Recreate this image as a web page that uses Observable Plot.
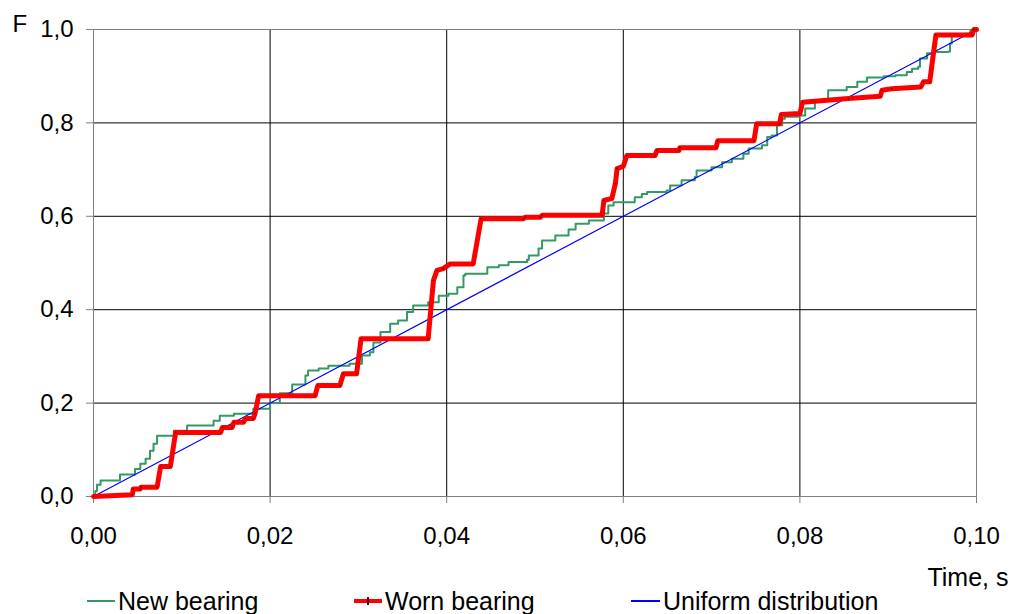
<!DOCTYPE html>
<html><head><meta charset="utf-8">
<script src="https://cdn.jsdelivr.net/npm/d3@7"></script>
<script src="https://cdn.jsdelivr.net/npm/@observablehq/plot@0.6"></script>
<style>
body{margin:0;background:#fff;font-family:"Liberation Sans",Arial,sans-serif;}
#wrap{position:relative;width:1013px;height:614px;overflow:hidden;}
#legend{position:absolute;left:0;top:587px;height:28px;width:1013px;font-size:25px;color:#000;}
.item{position:absolute;top:0;height:28px;display:flex;align-items:center;white-space:nowrap;}
.sym{display:inline-block;position:relative;margin-right:3px;}
</style></head><body>
<div id="wrap"><div id="chart"></div><div id="legend"></div></div>
<script>
// ---- data ----
const seriesNames = ["New bearing", "Worn bearing", "Uniform distribution"];
const xTicks = [0, 0.02, 0.04, 0.06, 0.08, 0.10];
const yTicks = [0, 0.2, 0.4, 0.6, 0.8, 1.0];

const newX = [0, 0.0002, 0.0004, 0.0008, 0.0030, 0.0047, 0.0053, 0.0059, 0.0064, 0.0068,
  0.0072, 0.0091, 0.0106, 0.0136, 0.0143, 0.0159, 0.0181, 0.0200, 0.0211, 0.0225,
  0.0240, 0.0243, 0.0255, 0.0266, 0.0290, 0.0304, 0.0313, 0.0317, 0.0325, 0.0336,
  0.0345, 0.0355, 0.0362, 0.0379, 0.0391, 0.0402, 0.0412, 0.0419, 0.0421, 0.0446,
  0.0459, 0.0470, 0.0491, 0.0493, 0.0504, 0.0508, 0.0523, 0.0538, 0.0546, 0.0561,
  0.0578, 0.0583, 0.0589, 0.0613, 0.0621, 0.0627, 0.0649, 0.0653, 0.0666, 0.0681,
  0.0683, 0.0700, 0.0712, 0.0723, 0.0736, 0.0742, 0.0757, 0.0763, 0.0768, 0.0774,
  0.0780, 0.0783, 0.0798, 0.0806, 0.0817, 0.0825, 0.0832, 0.0853, 0.0865, 0.0876,
  0.0895, 0.0908, 0.0921, 0.0927, 0.0934, 0.0936, 0.0944, 0.0951, 0.0968, 0.0970,
  0.0972, 0.0987, 0.0993, 0.1];
const newF = [0, 0.012, 0.025, 0.034, 0.047, 0.059, 0.070, 0.081, 0.098, 0.113,
  0.130, 0.141, 0.152, 0.162, 0.173, 0.177, 0.188, 0.200, 0.221, 0.240,
  0.259, 0.270, 0.274, 0.280, 0.284, 0.302, 0.309, 0.330, 0.352, 0.370,
  0.377, 0.395, 0.409, 0.416, 0.430, 0.434, 0.448, 0.473, 0.477, 0.491,
  0.495, 0.502, 0.507, 0.516, 0.531, 0.548, 0.559, 0.572, 0.584, 0.591,
  0.606, 0.623, 0.630, 0.641, 0.648, 0.652, 0.655, 0.666, 0.677, 0.684,
  0.698, 0.705, 0.716, 0.723, 0.734, 0.745, 0.752, 0.770, 0.773, 0.795,
  0.809, 0.813, 0.816, 0.831, 0.845, 0.848, 0.870, 0.877, 0.888, 0.897,
  0.900, 0.902, 0.909, 0.916, 0.920, 0.938, 0.949, 0.952, 0.953, 0.970,
  0.986, 0.991, 0.998, 1.0];

const wornX = [0, 0.0044, 0.0045, 0.0053, 0.0054, 0.0072, 0.0076, 0.0087, 0.0093, 0.0144,
  0.0146, 0.0157, 0.0159, 0.0170, 0.0172, 0.0181, 0.0183, 0.0187, 0.0251, 0.0254,
  0.0279, 0.0283, 0.0298, 0.0303, 0.0379, 0.0385, 0.0389, 0.0396, 0.0404, 0.0430,
  0.0439, 0.0487, 0.0489, 0.0506, 0.0508, 0.0576, 0.0578, 0.0587, 0.0591, 0.0593,
  0.0600, 0.0604, 0.0636, 0.0638, 0.0663, 0.0664, 0.0705, 0.0707, 0.0748, 0.0751,
  0.0777, 0.0779, 0.0800, 0.0803, 0.0855, 0.0891, 0.0893, 0.0904, 0.0937, 0.0940,
  0.0947, 0.0954, 0.0995, 0.0997, 0.1];
const wornF = [0, 0.004, 0.016, 0.016, 0.020, 0.020, 0.064, 0.064, 0.137, 0.137,
  0.148, 0.148, 0.159, 0.159, 0.167, 0.167, 0.178, 0.216, 0.216, 0.2375,
  0.2375, 0.263, 0.263, 0.338, 0.338, 0.463, 0.484, 0.488, 0.498, 0.498,
  0.595, 0.595, 0.598, 0.598, 0.602, 0.602, 0.634, 0.638, 0.670, 0.702,
  0.707, 0.730, 0.730, 0.741, 0.741, 0.747, 0.747, 0.762, 0.762, 0.798,
  0.798, 0.818, 0.820, 0.844, 0.852, 0.857, 0.870, 0.873, 0.877, 0.888,
  0.888, 0.988, 0.988, 1.0, 1.0];

const uniformX = [0, 0.1];
const uniformF = [0, 1];

// ---- build tables ----
const toRows = (xs, fs) => xs.slice(0, Math.min(xs.length, fs.length)).map((x, i) => ({x, F: fs[i]}));
const newData = toRows(newX, newF);
const wornData = toRows(wornX, wornF);
const uniData = toRows(uniformX, uniformF);

const colNew = "#339966", colWorn = "#ff0000", colUni = "#0000ff";
const fmt2 = d => d3.format(".2f")(d).replace(".", ",");
const fmt1 = d => d3.format(".1f")(d).replace(".", ",");

const chart = Plot.plot({
  width: 1013, height: 587,
  marginLeft: 93, marginRight: 37, marginTop: 29, marginBottom: 91,
  style: {fontFamily: "'Liberation Sans', Arial, sans-serif", fontSize: "24px", color: "#000", background: "#fff", overflow: "visible"},
  x: {domain: [0, 0.1]},
  y: {domain: [0, 1]},
  marks: [
    Plot.gridX(xTicks.slice(1, -1), {stroke: "#000", strokeOpacity: 1}),
    Plot.gridY(yTicks.slice(1, -1), {stroke: "#000", strokeOpacity: 1}),
    Plot.frame({stroke: "#808080"}),
    Plot.axisX(xTicks, {tickFormat: fmt2, tickSize: 7, tickPadding: 23, stroke: "#808080", label: null}),
    Plot.axisY(yTicks, {tickFormat: fmt1, tickSize: 7, tickPadding: 13, stroke: "#808080", label: null}),
    Plot.line(newData, {x: "x", y: "F", stroke: colNew, strokeWidth: 2, curve: "step-after"}),
    Plot.line(uniData, {x: "x", y: "F", stroke: colUni, strokeWidth: 1.2}),
    Plot.line(wornData, {x: "x", y: "F", stroke: colWorn, strokeWidth: 5, strokeLinejoin: "round", strokeLinecap: "round"}),
    Plot.dot(wornData, {x: "x", y: "F", r: 0.8, fill: "#400", stroke: null}),
    Plot.text(["F"], {text: d => d, frameAnchor: "top-left", dx: -81, dy: -15, textAnchor: "start"}),
    Plot.text(["Time, s"], {text: d => d, frameAnchor: "bottom-right", dx: 32, dy: 89, textAnchor: "end", fontSize: 25})
  ]
});
document.getElementById("chart").appendChild(chart);

// ---- legend ----
const legend = document.getElementById("legend");
const legendItems = [
  {name: seriesNames[0], color: colNew, w: 28, h: 2, left: 87, marker: false},
  {name: seriesNames[1], color: colWorn, w: 28, h: 4, left: 354, marker: true},
  {name: seriesNames[2], color: colUni, w: 29, h: 1.5, left: 631, marker: false}
];
for (const it of legendItems) {
  const item = document.createElement("div");
  item.className = "item";
  item.style.left = it.left + "px";
  const sym = document.createElement("span");
  sym.className = "sym";
  sym.style.width = it.w + "px";
  sym.style.height = it.h + "px";
  sym.style.background = it.color;
  if (it.marker) {
    const m = document.createElement("span");
    m.style.cssText = "position:absolute;left:13px;top:-2px;width:2px;height:8px;background:#600;";
    sym.appendChild(m);
  }
  item.appendChild(sym);
  const t = document.createElement("span");
  t.textContent = it.name;
  item.appendChild(t);
  legend.appendChild(item);
}
</script>
</body></html>
